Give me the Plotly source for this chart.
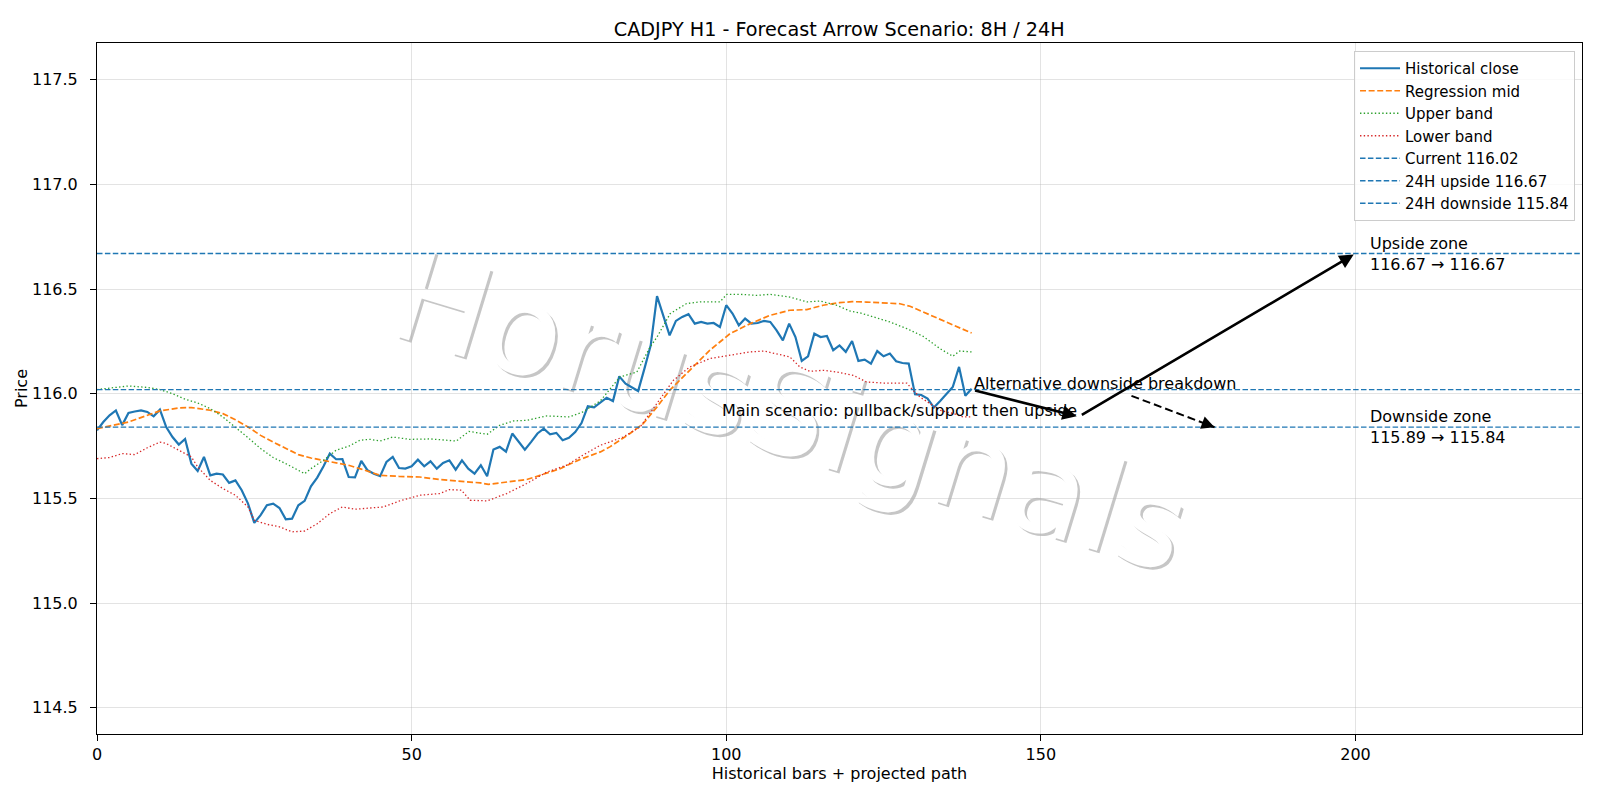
import plotly.graph_objects as go

# ---------------- data ----------------
close = [
    115.825, 115.865, 115.897, 115.920, 115.850, 115.908, 115.915, 115.920, 115.913, 115.892,
    115.924, 115.841, 115.793, 115.757, 115.784, 115.666, 115.631, 115.698, 115.610, 115.618,
    115.614, 115.574, 115.586, 115.539, 115.475, 115.383, 115.420, 115.467, 115.475, 115.454,
    115.400, 115.403, 115.467, 115.488, 115.558, 115.599, 115.653, 115.714, 115.687, 115.688,
    115.602, 115.600, 115.679, 115.634, 115.618, 115.606, 115.674, 115.698, 115.645, 115.642,
    115.653, 115.685, 115.653, 115.677, 115.642, 115.669, 115.682, 115.637, 115.682, 115.642,
    115.618, 115.658, 115.606, 115.733, 115.746, 115.723, 115.810, 115.770, 115.733, 115.770,
    115.810, 115.833, 115.806, 115.813, 115.778, 115.789, 115.817, 115.860, 115.940, 115.935,
    115.956, 115.981, 115.965, 116.083, 116.048, 116.032, 116.013, 116.120, 116.231, 116.466,
    116.375, 116.279, 116.348, 116.367, 116.380, 116.335, 116.343, 116.335, 116.338, 116.319,
    116.423, 116.383, 116.327, 116.359, 116.335, 116.338, 116.348, 116.343, 116.303, 116.255,
    116.335, 116.271, 116.157, 116.179, 116.287, 116.271, 116.276, 116.208, 116.231, 116.200,
    116.252, 116.157, 116.163, 116.144, 116.204, 116.179, 116.192, 116.155, 116.147, 116.144,
    115.997, 115.994, 115.977, 115.934, 115.965, 115.997, 116.032, 116.128, 115.990, 116.024,
]
close_x = list(range(len(close)))

mid_x = [0, 5, 10, 13, 15, 18, 20, 22, 24, 26, 28, 30, 32, 34, 36, 38, 40, 42, 45, 48,
         51.3, 54.5, 57.7, 60.9, 62.2, 65.1, 68.3, 70.4, 73.6, 76.7, 80, 81.5, 84.7, 86.8,
         89, 91, 94.2, 97.4, 100.6, 103.8, 107, 110.1, 112.8, 115.4, 118, 120, 122.3, 125,
         127.6, 129.2, 131.3, 134, 136.6, 139]
mid_y = [115.833, 115.865, 115.918, 115.932, 115.934, 115.921, 115.905, 115.876, 115.841,
         115.801, 115.769, 115.738, 115.709, 115.693, 115.682, 115.672, 115.658, 115.640,
         115.610, 115.605, 115.602, 115.590, 115.583, 115.574, 115.567, 115.577, 115.590,
         115.610, 115.642, 115.685, 115.722, 115.746, 115.810, 115.857, 115.937, 116.016,
         116.112, 116.208, 116.287, 116.335, 116.375, 116.399, 116.402, 116.423, 116.435,
         116.440, 116.438, 116.435, 116.430, 116.418, 116.391, 116.354, 116.322, 116.290]

upper_x = [0, 3, 5, 8, 10, 12, 14, 16, 18, 20, 22, 24, 26, 28, 30, 32, 33, 34, 36, 38, 40,
           41.8, 43.4, 45, 47, 49.7, 53, 57.1, 59.1, 62, 64, 66.2, 68.3, 71.5, 75.1, 77.2, 80,
           83.1, 85.8, 87.9, 89, 91.1, 93.7, 95.9, 99, 100.1, 102.2, 104.8, 107, 110.1, 112.8,
           114.9, 117.5, 119.7, 121.3, 123.4, 126, 128.7, 131.3, 134, 136, 137.1, 139]
upper_y = [116.020, 116.032, 116.037, 116.030, 116.020, 116.000, 115.974, 115.956, 115.929,
           115.889, 115.841, 115.790, 115.738, 115.695, 115.666, 115.634, 115.618, 115.642,
           115.682, 115.730, 115.749, 115.778, 115.782, 115.774, 115.793, 115.782, 115.784,
           115.774, 115.820, 115.806, 115.849, 115.870, 115.873, 115.894, 115.889, 115.913,
           115.966, 116.080, 116.104, 116.223, 116.271, 116.383, 116.431, 116.439, 116.439,
           116.475, 116.475, 116.470, 116.475, 116.462, 116.439, 116.443, 116.423, 116.395,
           116.386, 116.367, 116.343, 116.311, 116.274, 116.215, 116.179, 116.204, 116.200]

lower_x = [0, 2, 4, 6, 8, 10, 11, 13, 15, 16, 18, 20, 22, 24, 25, 27, 29, 31, 33, 35, 37,
           39, 41, 45.5, 48.1, 51.3, 54.5, 56, 57.9, 59.3, 62, 65.1, 68.3, 71.5, 74.6, 77.2,
           80, 81.5, 83.6, 86.3, 89, 91.6, 94.2, 97.4, 100.6, 103.8, 106, 108, 110.1, 111.7,
           113.3, 115.4, 117.5, 120.2, 122.3, 125, 128.7, 129.7, 130.8, 132.4, 134, 136.1,
           137.7, 139]
lower_y = [115.690, 115.695, 115.714, 115.709, 115.742, 115.769, 115.762, 115.730, 115.698,
           115.650, 115.586, 115.547, 115.515, 115.459, 115.395, 115.376, 115.364, 115.340,
           115.344, 115.379, 115.427, 115.459, 115.448, 115.459, 115.488, 115.515, 115.523,
           115.542, 115.539, 115.491, 115.488, 115.523, 115.571, 115.626, 115.658, 115.706,
           115.754, 115.770, 115.793, 115.841, 115.953, 116.064, 116.128, 116.168, 116.184,
           116.200, 116.204, 116.192, 116.176, 116.128, 116.107, 116.112, 116.104, 116.088,
           116.056, 116.051, 116.051, 116.016, 115.984, 115.953, 115.921, 115.905, 115.889,
           115.889]

level_names = ["Current 116.02", "24H upside 116.67", "24H downside 115.84"]
level_values = [116.02, 116.67, 115.84]

x_limits = [0, 236]
y_limits = [114.374, 117.676]
y_ticks = [114.5, 115.0, 115.5, 116.0, 116.5, 117.0, 117.5]
x_ticks = [0, 50, 100, 150, 200]

# projected main path (start, pullback, target) and alternative path
main_x = [139, 156, 200]
main_y = [116.02, 115.89, 116.67]
alt_x = [164.4, 177.6]
alt_y = [115.99, 115.84]

zone_x = 202
upside_text = "Upside zone<br>116.67 → 116.67"
downside_text = "Downside zone<br>115.89 → 115.84"
watermark = "HorusSignals"

FONT = "DejaVu Sans"
BLUE = "#1f77b4"
FS = 16

# ---------------- figure ----------------
fig = go.Figure()
fig.add_trace(go.Scatter(x=close_x, y=close, mode="lines", name="Historical close",
                         line=dict(color=BLUE, width=2.2)))
fig.add_trace(go.Scatter(x=mid_x, y=mid_y, mode="lines", name="Regression mid",
                         line=dict(color="#ff7f0e", width=1.7, dash="6px,2.6px")))
fig.add_trace(go.Scatter(x=upper_x, y=upper_y, mode="lines", name="Upper band",
                         line=dict(color="#2ca02c", width=1.3, dash="1.4px,2.3px")))
fig.add_trace(go.Scatter(x=lower_x, y=lower_y, mode="lines", name="Lower band",
                         line=dict(color="#d62728", width=1.3, dash="1.4px,2.3px")))
for nm, v in zip(level_names, level_values):
    fig.add_trace(go.Scatter(x=x_limits, y=[v, v], mode="lines", name=nm,
                             line=dict(color=BLUE, width=1.3, dash="5.5px,2.4px")))

# dashed shaft of alternative arrow
fig.add_trace(go.Scatter(x=alt_x, y=alt_y, mode="lines", showlegend=False, hoverinfo="skip",
                         line=dict(color="black", width=2, dash="8px,4px")))

# watermark drawn below the data: shadow label + white label
wm_cx, wm_cy = 0.4690, 0.4790
shapes = []
for dx, dy, col in [(0.0017, -0.0036, "#c6c6c6"), (0.0, 0.0, "white")]:
    shapes.append(dict(type="rect", xref="paper", yref="paper", layer="below",
                       x0=wm_cx + dx - 0.01, x1=wm_cx + dx + 0.01,
                       y0=wm_cy + dy - 0.01, y1=wm_cy + dy + 0.01,
                       line=dict(width=0, color="rgba(0,0,0,0)"), fillcolor="rgba(0,0,0,0)",
                       label=dict(text=watermark, textposition="middle center", textangle=17,
                                  font=dict(family=FONT, size=126, color=col))))

annotations = []
# main scenario arrows
for i in range(len(main_x) - 1):
    annotations.append(dict(x=main_x[i + 1], y=main_y[i + 1], ax=main_x[i], ay=main_y[i],
                            xref="x", yref="y", axref="x", ayref="y", text="", showarrow=True,
                            arrowhead=2, arrowsize=1.1, arrowwidth=2.6, arrowcolor="black",
                            standoff=2, startstandoff=2))
# alternative arrow head
annotations.append(dict(x=alt_x[1], y=alt_y[1],
                        ax=alt_x[1] - 0.15 * (alt_x[1] - alt_x[0]),
                        ay=alt_y[1] - 0.15 * (alt_y[1] - alt_y[0]),
                        xref="x", yref="y", axref="x", ayref="y", text="", showarrow=True,
                        arrowhead=2, arrowsize=1.3, arrowwidth=2, arrowcolor="black"))

annotations.append(dict(x=main_x[0], y=main_y[0], xref="x", yref="y", text="Alternative downside breakdown",
                        showarrow=False, xanchor="left", yanchor="bottom", yshift=-5,
                        font=dict(family=FONT, size=FS, color="black")))
annotations.append(dict(x=main_x[1], y=main_y[1], xref="x", yref="y",
                        text="Main scenario: pullback/support then upside",
                        showarrow=False, xanchor="right", yanchor="bottom", yshift=-5,
                        font=dict(family=FONT, size=FS, color="black")))
annotations.append(dict(x=zone_x, y=level_values[1], xref="x", yref="y", text=upside_text,
                        showarrow=False, xanchor="left", yanchor="middle", align="left",
                        font=dict(family=FONT, size=FS, color="black")))
annotations.append(dict(x=zone_x, y=level_values[2], xref="x", yref="y", text=downside_text,
                        showarrow=False, xanchor="left", yanchor="middle", align="left",
                        font=dict(family=FONT, size=FS, color="black")))

axis_common = dict(showline=True, mirror=True, linecolor="black", linewidth=1,
                   ticks="outside", ticklen=6, tickwidth=1, tickcolor="black",
                   showgrid=True, gridcolor="rgba(176,176,176,0.35)", gridwidth=1,
                   zeroline=False, tickfont=dict(family=FONT, size=FS, color="black"))

fig.update_layout(
    width=1600, height=800,
    margin=dict(l=97, r=18, t=43, b=66),
    paper_bgcolor="white", plot_bgcolor="white",
    font=dict(family=FONT, size=FS, color="black"),
    title=dict(text="CADJPY H1 - Forecast Arrow Scenario: 8H / 24H", x=0.5245, xanchor="center",
               y=0.964, yanchor="middle", font=dict(family=FONT, size=19.2, color="black")),
    xaxis=dict(range=x_limits, tickvals=x_ticks, title=dict(text="Historical bars + projected path",
               font=dict(family=FONT, size=FS), standoff=4), **axis_common),
    yaxis=dict(range=y_limits, tickvals=y_ticks, tickformat=".1f", ticklabelstandoff=9,
               title=dict(text="Price", font=dict(family=FONT, size=FS), standoff=0), **axis_common),
    legend=dict(x=0.9953, xanchor="right", y=0.9884, yanchor="top", bgcolor="rgba(255,255,255,0.8)",
                bordercolor="#cccccc", borderwidth=1, font=dict(family=FONT, size=15),
                itemwidth=40),
    shapes=shapes,
    annotations=annotations,
    showlegend=True,
)

fig.write_html("out.html")
